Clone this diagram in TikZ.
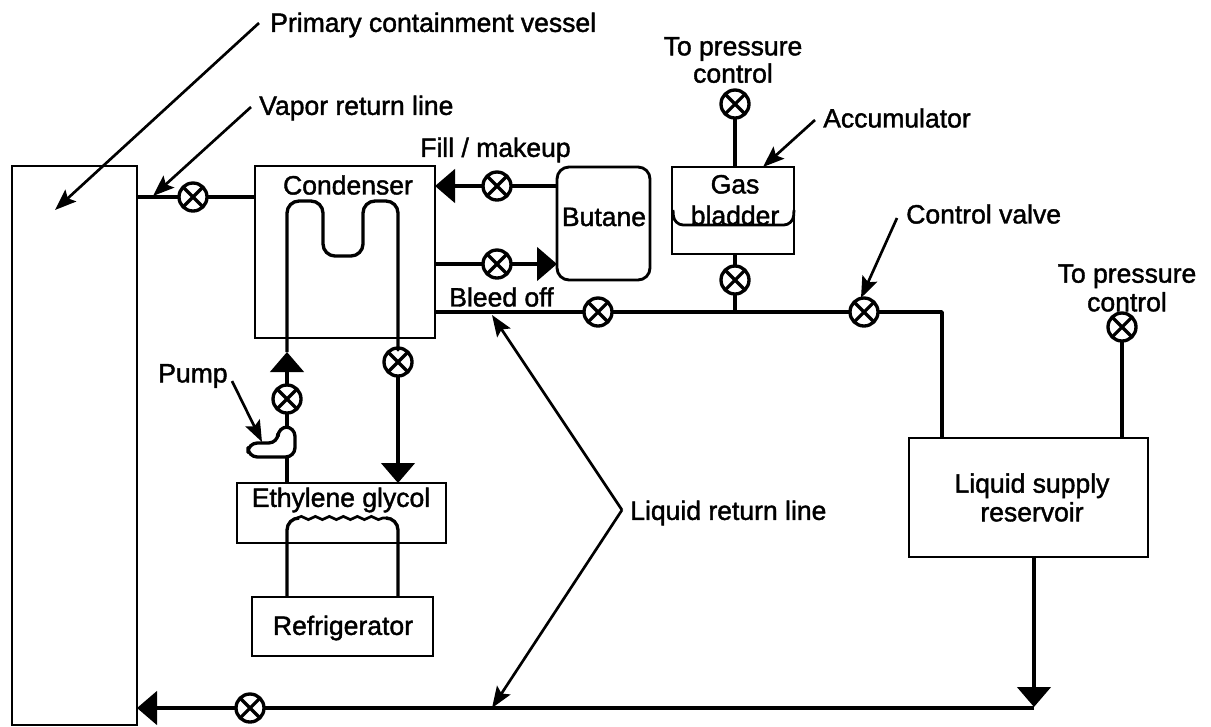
\documentclass[tikz,border=0pt]{standalone}
\usepackage{fontspec}
\setmainfont{Liberation Sans}[FakeBold=1.5]
\usetikzlibrary{arrows.meta,decorations.pathmorphing}
\tikzset{
  x=0.75pt,y=-0.75pt,
  pipe/.style={line width=2.8pt,line join=round},
  thinpipe/.style={line width=2.5pt,line join=round},
  boxnode/.style={draw,line width=2.15pt,inner sep=0pt,outer sep=0pt,align=center},
  lab/.style={font=\fontsize{19.9pt}{21pt}\selectfont,inner sep=0pt,align=center},
  valve/.style={circle,draw,fill=white,line width=2.5pt,minimum size=21pt,inner sep=0pt,outer sep=0pt,
    path picture={\draw[line width=2.4pt] (path picture bounding box.north west)--(path picture bounding box.south east)
      (path picture bounding box.north east)--(path picture bounding box.south west);}},
  flow/.style={pipe,-{Triangle[length=15pt,width=25pt]}},
  callout/.style={line width=2pt,-{Stealth[length=16pt,width=12pt,inset=3pt]}},
}
\begin{document}
\begin{tikzpicture}
\useasboundingbox (0,0) rectangle (1211,726);
% boxes
\node[boxnode,minimum width=93.75pt,minimum height=419.25pt] (pcv) at (74.5,445.5) {};
\node[boxnode,minimum width=135pt,minimum height=129pt] (cond) at (345,252) {};
\node[boxnode,rounded corners=9pt,minimum width=69.75pt,minimum height=84.75pt] (butane) at (603.5,223.5) {};
\node[boxnode,minimum width=91.5pt,minimum height=65.25pt] (acc) at (733,210.5) {};
\node[boxnode,minimum width=156.75pt,minimum height=45pt] (glycol) at (341.5,513) {};
\node[boxnode,minimum width=135.75pt,minimum height=44.25pt] (fridge) at (342.5,626.5) {};
\node[boxnode,minimum width=179.25pt,minimum height=89.25pt] (res) at (1028.5,497.5) {};
% valves
\node[valve] (vVap) at (193,197) {};
\node[valve] (vFill) at (497,186) {};
\node[valve] (vDrain) at (497,264) {};
\node[valve] (vBleed) at (598,312) {};
\node[valve] (vAccTop) at (735,104) {};
\node[valve] (vAccBot) at (735,280) {};
\node[valve] (vCtrl) at (864,312) {};
\node[valve] (vPress) at (1122,327) {};
\node[valve] (vPump) at (287,399) {};
\node[valve] (vCool) at (398,362) {};
\node[valve] (vRet) at (250,708) {};
% coordinates
\coordinate (jAcc) at (735,312);
\coordinate (corner) at (942,312);
\coordinate (retEnd) at (1034,708);
\coordinate (tipUp) at (287,352);
\coordinate (coilR) at (398,338);
\coordinate (pumpT) at (287,427);
% pipes
\draw[pipe] (pcv.east |- vVap) -- (vVap) -- (vVap -| cond.west);
\draw[pipe] (vFill -| butane.west) -- (vFill);
\draw[flow] (vFill) -- (vFill -| cond.east);
\draw[pipe] (vDrain -| cond.east) -- (vDrain);
\draw[flow] (vDrain) -- (vDrain -| butane.west);
\draw[pipe] (vBleed -| cond.east) -- (vBleed) -- (vCtrl) -- (corner) -- (corner |- res.north);
\draw[thinpipe] (jAcc) -- (vAccBot) -- (vAccBot |- acc.south);
\draw[thinpipe] (vAccTop) -- (vAccTop |- acc.north);
\draw[thinpipe] (vPress) -- (vPress |- res.north);
\draw[flow] (retEnd |- res.south) -- ([yshift=0.75pt]retEnd);
\draw[pipe] (retEnd) -- (vRet);
\draw[flow] (vRet) -- (vRet -| pcv.east);
% condenser coil
\draw[thinpipe,rounded corners=9pt] (tipUp) -- (287,201) -- (323,201) -- (323,256) -- (363,256) -- (363,201) -- (398,201) -- (coilR) -- (vCool);
\draw[flow] (vPump) -- (tipUp);
\draw[flow] (vCool) -- (vCool |- glycol.north);
\draw[thinpipe] (vPump) -- (pumpT);
\draw[thinpipe] (pumpT) -- (pumpT |- glycol.north);
% pump
\draw[thinpipe,fill=white,rounded corners=7pt] (262,443) -- (278,443) -- (278,427) -- (295,427) -- (295,457) -- (248,457) -- (248,443) -- (262,443);
% glycol / refrigerator coil
\draw[line width=2.5pt,rounded corners=9pt] (287,597) -- (287,518) -- (299,518);
\draw[line width=2.5pt,rounded corners=9pt] (398,597) -- (398,518) -- (386,518);
\draw[line width=2pt,decorate,decoration={snake,segment length=10.5pt,amplitude=1.2pt}] (297,518) -- (388,518);
% bladder
\draw[line width=2.1pt,rounded corners=7pt] (673,210) -- (674,225) -- (793,225) -- (794,210);
% callouts
\coordinate (cPrim) at (259,23);
\coordinate (tPrim) at (55,210);
\coordinate (cVap) at (251,107);
\coordinate (tVap) at (153,196);
\coordinate (cAcc) at (815,120);
\coordinate (tAcc) at (763,167);
\coordinate (cCtrl) at (897,218);
\coordinate (tCtrl) at (861,298);
\coordinate (cPump) at (232,381);
\coordinate (tPump) at (262,442);
\coordinate (cLiq) at (622,510);
\coordinate (tLiqA) at (492,315);
\coordinate (tLiqB) at (492,708);
\draw[callout] (cPrim) -- (tPrim);
\draw[callout] (cVap) -- (tVap);
\draw[callout] (cAcc) -- (tAcc);
\draw[callout] (cCtrl) -- (tCtrl);
\draw[callout] (cPump) -- (tPump);
\draw[callout] (cLiq) -- (tLiqA);
\draw[callout] (cLiq) -- (tLiqB);
% labels
\node[lab,anchor=west] (lPrim) at (270,25) {Primary containment vessel};
\node[lab,anchor=west] (lVap) at (259,108) {Vapor return line};
\node[lab,anchor=west] (lFill) at (420,150) {Fill / makeup};
\node[lab] (lCond) at (348,185) {Condenser};
\node[lab] (lBut) at (604,217) {Butane};
\node[lab] (lGas) at (735,200) {Gas\\[2.5pt]bladder};
\node[lab] (lTop) at (733,60) {To pressure\\[-0.5pt]control};
\node[lab,anchor=west] (lAcc) at (823,118) {Accumulator};
\node[lab,anchor=west] (lCtrl) at (906,214) {Control valve};
\node[lab] (lPress) at (1127,288) {To pressure\\[0.5pt]control};
\node[lab,anchor=west] (lBleed) at (449,297) {Bleed off};
\node[lab,anchor=west] (lPump) at (158,376) {Pump};
\node[lab] (lGly) at (341,500) {Ethylene glycol};
\node[lab] (lFri) at (343,628) {Refrigerator};
\node[lab,anchor=west] (lLiq) at (630,513) {Liquid return line};
\node[lab] (lRes) at (1032,497.5) {Liquid supply\\[0.5pt]reservoir};
\end{tikzpicture}
\end{document}
